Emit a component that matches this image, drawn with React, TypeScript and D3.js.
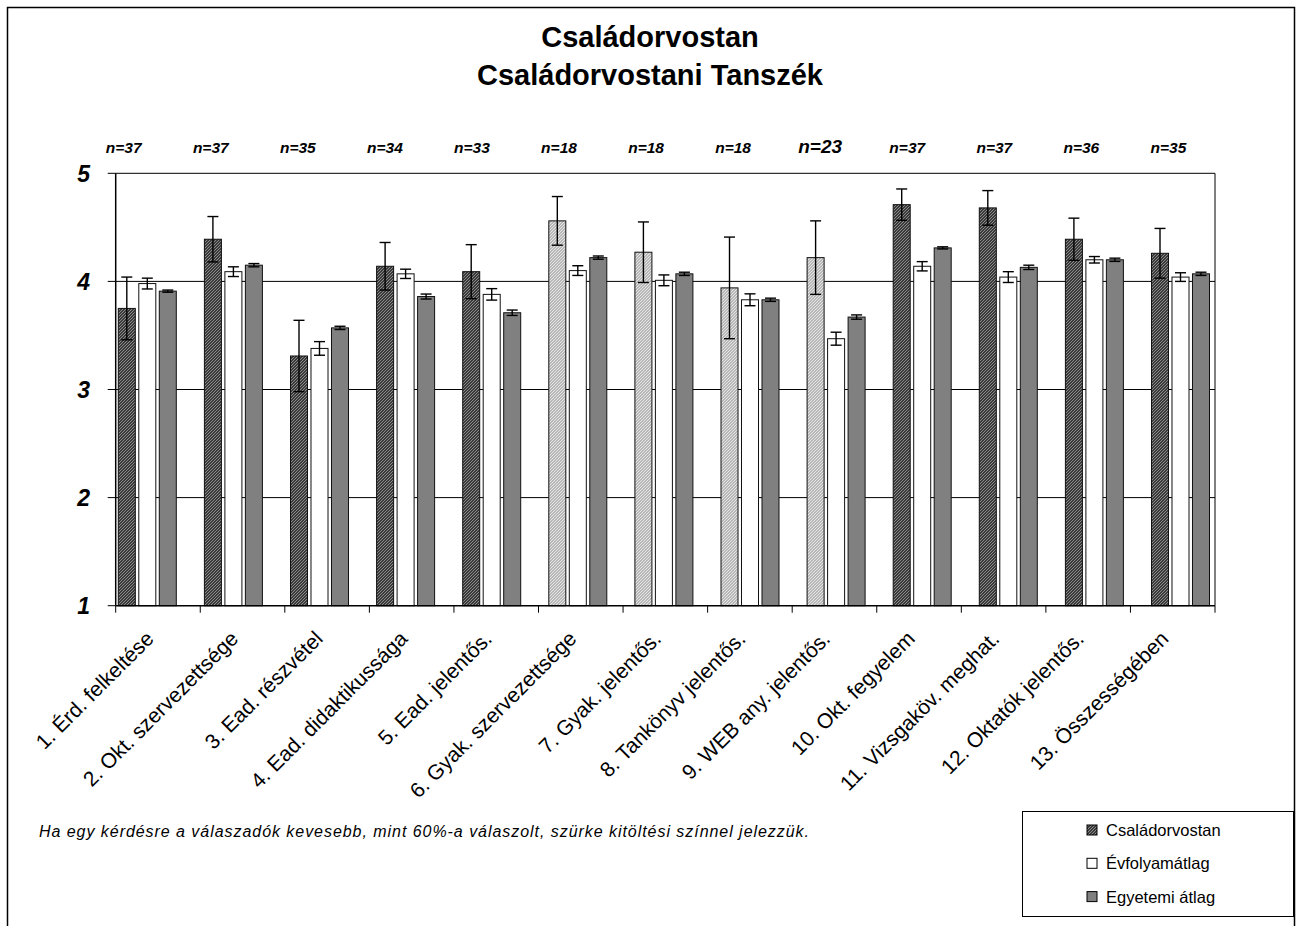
import React from "react";
import * as d3 from "d3";

const categories = [
  "1. Érd. felkeltése",
  "2. Okt. szervezettsége",
  "3. Ead. részvétel",
  "4. Ead. didaktikussága",
  "5. Ead. jelentős.",
  "6. Gyak. szervezettsége",
  "7. Gyak. jelentős.",
  "8. Tankönyv jelentős.",
  "9. WEB any. jelentős.",
  "10. Okt. fegyelem",
  "11. Vizsgaköv. meghat.",
  "12. Oktatók jelentős.",
  "13. Összességében",
];
const nLabels = ["n=37", "n=37", "n=35", "n=34", "n=33", "n=18", "n=18", "n=18", "n=23", "n=37", "n=37", "n=36", "n=35"];
const lowResponse = [false, false, false, false, false, true, true, true, true, false, false, false, false];

const seriesNames = ["Családorvostan", "Évfolyamátlag", "Egyetemi átlag"];
const deptValues = [3.75, 4.39, 3.31, 4.14, 4.09, 4.56, 4.27, 3.94, 4.22, 4.71, 4.68, 4.39, 4.26];
const deptErr = [0.29, 0.21, 0.33, 0.22, 0.25, 0.225, 0.28, 0.47, 0.34, 0.145, 0.16, 0.195, 0.23];
const yearValues = [3.98, 4.09, 3.38, 4.07, 3.88, 4.1, 4.01, 3.83, 3.47, 4.14, 4.04, 4.2, 4.04];
const yearErr = [0.05, 0.045, 0.063, 0.043, 0.053, 0.045, 0.05, 0.055, 0.06, 0.043, 0.05, 0.03, 0.04];
const univValues = [3.91, 4.15, 3.57, 3.86, 3.71, 4.22, 4.07, 3.83, 3.67, 4.31, 4.13, 4.2, 4.07];
const univErr = [0.01, 0.015, 0.015, 0.023, 0.025, 0.015, 0.015, 0.015, 0.02, 0.01, 0.02, 0.015, 0.015];
const yTicks = [1, 2, 3, 4, 5];

const title1 = "Családorvostan";
const title2 = "Családorvostani Tanszék";
const footnote = "Ha egy kérdésre a válaszadók kevesebb, mint 60%-a válaszolt, szürke kitöltési színnel jelezzük.";

const FONT = "'Liberation Sans', Arial, Helvetica, sans-serif";

export default function App() {
  const L = 115.7, R = 1215, T = 173.3, B = 605.7;
  const y = d3.scaleLinear().domain([1, 5]).range([B, T]);
  const xCat = d3.scaleBand<string>().domain(categories).range([L, R]);
  const groupStep = 86.1;
  const xGroup = d3.scaleBand<string>().domain(categories).range([L + 2.6, L + 2.6 + groupStep * categories.length]);
  const inner = d3.scaleBand<number>().domain([0, 1, 2]).range([0, 58]).paddingInner(0.17);
  const bw = inner.bandwidth();

  const series = [
    { vals: deptValues, errs: deptErr },
    { vals: yearValues, errs: yearErr },
    { vals: univValues, errs: univErr },
  ];
  const fillFor = (s: number, i: number) => {
    if (s === 0) return lowResponse[i] ? "url(#hatchLight)" : "url(#hatchDark)";
    if (s === 1) return "#ffffff";
    return "#808080";
  };

  const capW = 11;

  return (
    <svg width={1300} height={926} style={{ position: "absolute", left: 0, top: 0, background: "#fff" }} fontFamily={FONT}>
      <defs>
        <pattern id="hatchDark" patternUnits="userSpaceOnUse" width={3} height={3}>
          <rect width={3} height={3} fill="#3a3a3a" />
          <path d="M0,3 L3,0 M-1,1 L1,-1 M2,4 L4,2" stroke="#a0a0a0" strokeWidth={0.8} />
        </pattern>
        <pattern id="hatchLight" patternUnits="userSpaceOnUse" width={3} height={3}>
          <rect width={3} height={3} fill="#b8b8b8" />
          <path d="M0,3 L3,0 M-1,1 L1,-1 M2,4 L4,2" stroke="#f0f0f0" strokeWidth={0.8} />
        </pattern>
      </defs>
      <rect x={0} y={0} width={1300} height={926} fill="#fff" />
      {/* outer frame */}
      <rect x={7.5} y={7.5} width={1287} height={1000} fill="none" stroke="#000" strokeWidth={1.5} />

      {/* titles */}
      <text x={650} y={47} textAnchor="middle" fontSize={29} fontWeight="bold">{title1}</text>
      <text x={650} y={85} textAnchor="middle" fontSize={29} fontWeight="bold">{title2}</text>

      {/* n labels */}
      {categories.map((c, i) => (
        <text
          key={"n" + i}
          x={(xCat(c) as number) + 8 + 2.5 * i}
          y={152.5}
          textAnchor="middle"
          fontSize={nLabels[i] === "n=23" ? 19 : 15.5}
          fontWeight="bold"
          fontStyle="italic"
        >
          {nLabels[i]}
        </text>
      ))}

      {/* gridlines */}
      {yTicks.filter((t) => t > 1).map((t) => (
        <line key={"g" + t} x1={L} x2={R} y1={y(t)} y2={y(t)} stroke="#000" strokeWidth={1} />
      ))}
      <line x1={R} x2={R} y1={T} y2={B} stroke="#000" strokeWidth={1} />

      {/* bars */}
      {series.map((s, si) =>
        categories.map((c, i) => {
          const x0 = (xGroup(c) as number) + (inner(si) as number);
          return (
            <rect
              key={"b" + si + "-" + i}
              x={x0}
              y={y(s.vals[i])}
              width={bw}
              height={B - y(s.vals[i])}
              fill={fillFor(si, i)}
              stroke="#111"
              strokeWidth={1}
            />
          );
        })
      )}

      {/* error bars */}
      {series.map((s, si) =>
        categories.map((c, i) => {
          const cx = (xGroup(c) as number) + (inner(si) as number) + bw / 2;
          const y1 = y(s.vals[i] + s.errs[i]);
          const y2 = y(s.vals[i] - s.errs[i]);
          return (
            <g key={"e" + si + "-" + i} stroke="#000" strokeWidth={1.4}>
              <line x1={cx} x2={cx} y1={y1} y2={y2} />
              <line x1={cx - capW / 2} x2={cx + capW / 2} y1={y1} y2={y1} />
              <line x1={cx - capW / 2} x2={cx + capW / 2} y1={y2} y2={y2} />
            </g>
          );
        })
      )}

      {/* axes */}
      <line x1={L} x2={L} y1={T} y2={B} stroke="#000" strokeWidth={1.5} />
      <line x1={L} x2={R} y1={B} y2={B} stroke="#000" strokeWidth={1.5} />
      {yTicks.map((t) => (
        <g key={"yt" + t}>
          <line x1={L - 8} x2={L} y1={y(t)} y2={y(t)} stroke="#000" strokeWidth={1} />
          <text x={90} y={y(t) + 8.5} textAnchor="end" fontSize={23} fontWeight="bold" fontStyle="italic">
            {t}
          </text>
        </g>
      ))}
      {[...categories.map((c) => xCat(c) as number), R].map((xx, k) => (
        <line key={"xt" + k} x1={xx} x2={xx} y1={B} y2={B + 7} stroke="#000" strokeWidth={1} />
      ))}
      {categories.map((c) => {
        const cx = (xCat(c) as number) + xCat.bandwidth() / 2 - 3;
        const cy = 640;
        return (
          <text key={"xl" + c} x={cx} y={cy} textAnchor="end" fontSize={21} transform={`rotate(-45 ${cx} ${cy})`}>
            {c}
          </text>
        );
      })}

      {/* footnote */}
      <text x={39} y={837} fontSize={16} fontStyle="italic" textLength={770} lengthAdjust="spacing">
        {footnote}
      </text>

      {/* legend */}
      <rect x={1022.5} y={811.5} width={271} height={105} fill="#fff" stroke="#000" strokeWidth={1} />
      {seriesNames.map((name, si) => {
        const ly = 830 + si * 33.3;
        return (
          <g key={"lg" + si}>
            <rect x={1087} y={ly - 5} width={10} height={10} fill={si === 0 ? "url(#hatchDark)" : fillFor(si, 0)} stroke="#000" strokeWidth={1} />
            <text x={1106} y={ly + 6} fontSize={16.5}>{name}</text>
          </g>
        );
      })}
    </svg>
  );
}
